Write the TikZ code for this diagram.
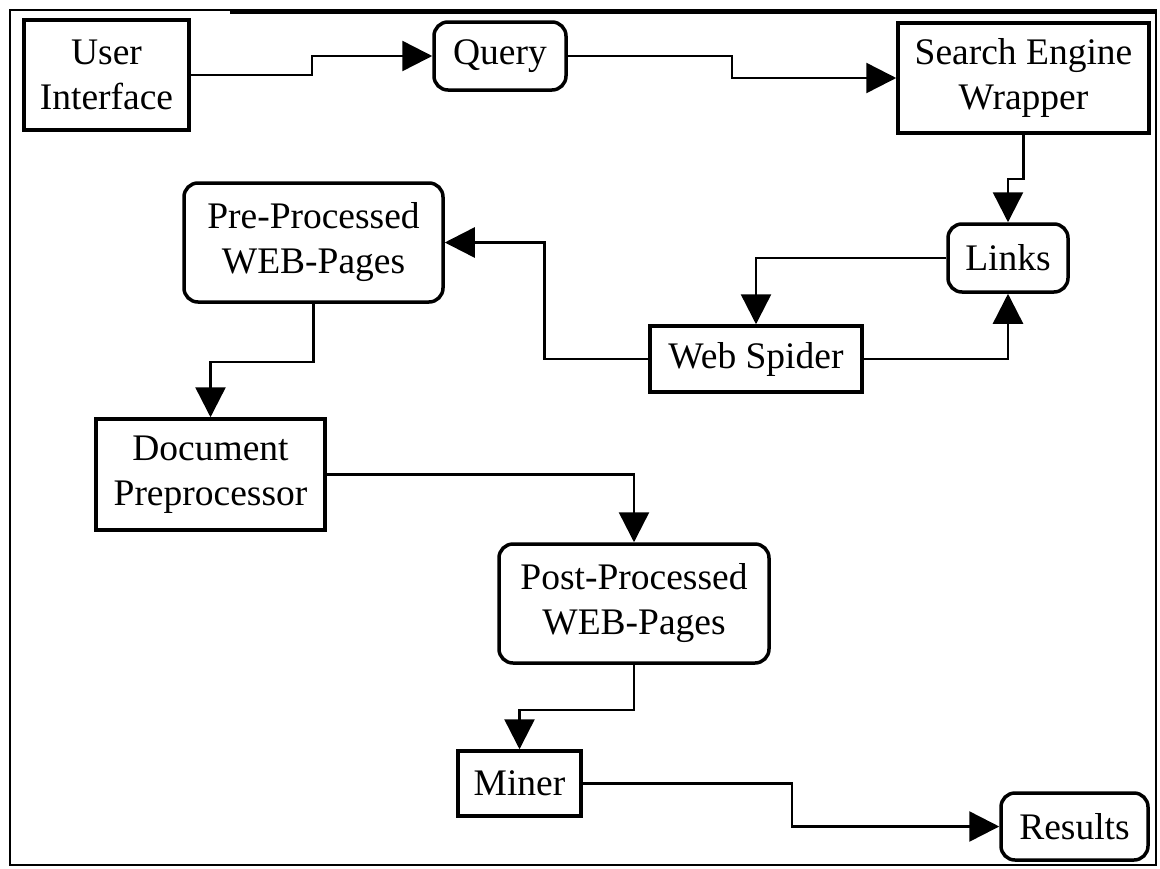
\documentclass[tikz,border=0pt]{standalone}
\usepackage{fontspec}
\setmainfont{Liberation Serif}
\usetikzlibrary{arrows.meta}
\begin{document}
\begin{tikzpicture}[x=1pt,y=-1pt,
  box/.style={draw, line width=3.5pt, align=center, inner sep=0pt, font=\fontsize{37.5}{45}\selectfont},
  rbox/.style={box, rounded corners=14pt},
  arr/.style={line width=2.5pt, -{Triangle[length=30pt,width=30pt]}},
  frame/.style={line width=2pt}]
\useasboundingbox (0,0) rectangle (1160,868);
\draw[frame] (10,10) rectangle (1156,865);
\draw[line width=5pt] (230,11) -- (1157,11);

\node[box,  minimum width=165pt, minimum height=110pt] (ui)    at (106.5,75)   {User\\Interface};
\node[rbox, minimum width=132pt, minimum height=68pt]  (query) at (500,56)     {Query};
\node[box,  minimum width=251pt, minimum height=110pt] (sew)   at (1023.5,78)  {Search Engine\\Wrapper};
\node[rbox, minimum width=120pt, minimum height=68pt]  (links) at (1008,258)   {Links};
\node[rbox, minimum width=259pt, minimum height=119pt] (pre)   at (313.5,242.5) {Pre-Processed\\WEB-Pages};
\node[box,  minimum width=212pt, minimum height=66pt]  (ws)    at (756,359)    {Web Spider};
\node[box,  minimum width=229pt, minimum height=111pt] (doc)   at (210.5,474.5) {Document\\Preprocessor};
\node[rbox, minimum width=270pt, minimum height=119pt] (post)  at (634,603.5)  {Post-Processed\\WEB-Pages};
\node[box,  minimum width=123pt, minimum height=65pt]  (miner) at (519.5,783.5) {Miner};
\node[rbox, minimum width=147pt, minimum height=67pt]  (res)   at (1074.5,826.5) {Results};

\draw[arr] (ui.east) -- ++(121,0) |- (query.west);
\draw[arr] (query.east) -- ++(164,0) |- (sew.west);
\draw[arr] (sew.south) -- ++(0,44) -| (links.north);
\draw[arr] (links.west) -| (ws.north);
\draw[arr] (ws.east) -| (links.south);
\draw[arr] (ws.west) -- ++(-104,0) |- (pre.east);
\draw[arr] (pre.south) -- ++(0,58) -| (doc.north);
\draw[arr] (doc.east) -| (post.north);
\draw[arr] (post.south) -- ++(0,45) -| (miner.north);
\draw[arr] (miner.east) -- ++(209,0) |- (res.west);
\end{tikzpicture}
\end{document}
